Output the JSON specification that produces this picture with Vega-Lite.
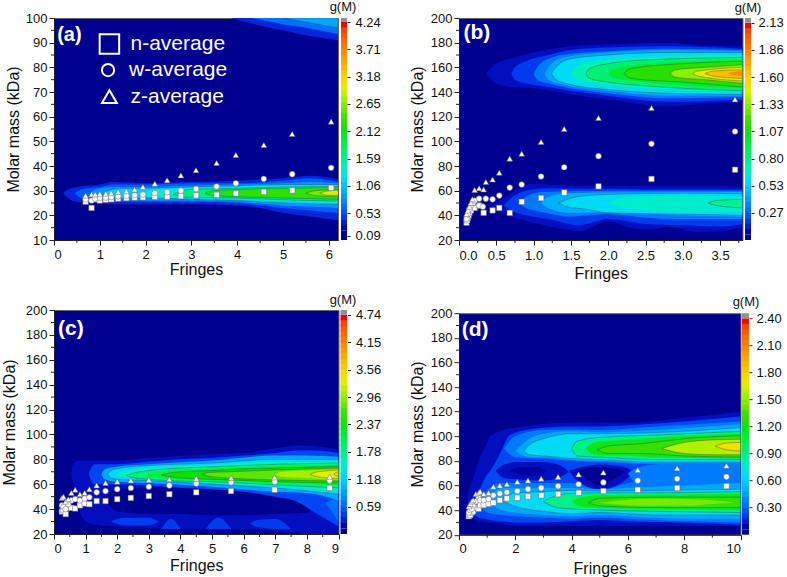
{"$schema":"https://vega.github.io/schema/vega-lite/v6.json","background":"white","padding":{"left":0,"top":0,"right":0,"bottom":0},
"config":{"font":"Liberation Sans","view":{"fill":"#000090","stroke":"#666"},"axis":{"labelFont":"Liberation Sans","titleFont":"Liberation Sans","labelFontSize":13,"titleFontSize":16,"titleFontWeight":"normal","labelColor":"#111","titleColor":"#111","tickColor":"#222","domainColor":"#222","tickSize":5,"grid":false,"labelPadding":2}},
"datasets":{
"one":[{}],
"xa":[{"x":0.5},{"x":1.5},{"x":2.5},{"x":3.5},{"x":4.5},{"x":5.5}],
"ya":[{"y":15},{"y":25},{"y":35},{"y":45},{"y":55},{"y":65},{"y":75},{"y":85},{"y":95}],
"xb":[{"x":0.25},{"x":0.75},{"x":1.25},{"x":1.75},{"x":2.25},{"x":2.75},{"x":3.25},{"x":3.75}],
"xc":[{"x":0.5},{"x":1.5},{"x":2.5},{"x":3.5},{"x":4.5},{"x":5.5},{"x":6.5},{"x":7.5},{"x":8.5}],
"xd":[{"x":1},{"x":3},{"x":5},{"x":7},{"x":9}],
"yy":[{"y":30},{"y":50},{"y":70},{"y":90},{"y":110},{"y":130},{"y":150},{"y":170},{"y":190}],
"bar":[{"lo":-0.05,"hi":0.025,"f":0},{"lo":0.025,"hi":0.055,"f":0.037},{"lo":0.05,"hi":0.08,"f":0.062},{"lo":0.075,"hi":0.105,"f":0.087},{"lo":0.1,"hi":0.13,"f":0.112},{"lo":0.125,"hi":0.155,"f":0.137},{"lo":0.15,"hi":0.18,"f":0.162},{"lo":0.175,"hi":0.205,"f":0.187},{"lo":0.2,"hi":0.23,"f":0.212},{"lo":0.225,"hi":0.255,"f":0.237},{"lo":0.25,"hi":0.28,"f":0.262},{"lo":0.275,"hi":0.305,"f":0.287},{"lo":0.3,"hi":0.33,"f":0.312},{"lo":0.325,"hi":0.355,"f":0.337},{"lo":0.35,"hi":0.38,"f":0.362},{"lo":0.375,"hi":0.405,"f":0.387},{"lo":0.4,"hi":0.43,"f":0.412},{"lo":0.425,"hi":0.455,"f":0.437},{"lo":0.45,"hi":0.48,"f":0.462},{"lo":0.475,"hi":0.505,"f":0.487},{"lo":0.5,"hi":0.53,"f":0.512},{"lo":0.525,"hi":0.555,"f":0.537},{"lo":0.55,"hi":0.58,"f":0.562},{"lo":0.575,"hi":0.605,"f":0.587},{"lo":0.6,"hi":0.63,"f":0.612},{"lo":0.625,"hi":0.655,"f":0.637},{"lo":0.65,"hi":0.68,"f":0.662},{"lo":0.675,"hi":0.705,"f":0.687},{"lo":0.7,"hi":0.73,"f":0.712},{"lo":0.725,"hi":0.755,"f":0.737},{"lo":0.75,"hi":0.78,"f":0.762},{"lo":0.775,"hi":0.805,"f":0.787},{"lo":0.8,"hi":0.83,"f":0.812},{"lo":0.825,"hi":0.855,"f":0.837},{"lo":0.85,"hi":0.88,"f":0.862},{"lo":0.875,"hi":0.905,"f":0.887},{"lo":0.9,"hi":0.93,"f":0.912},{"lo":0.925,"hi":0.955,"f":0.937},{"lo":0.95,"hi":0.98,"f":0.962},{"lo":0.975,"hi":1.0,"f":1},{"lo":1.0,"hi":1.05,"f":1.05}],
"ma":[
{"b":"a1","f":0.07,"c":0,"x":0.2,"l":29,"h":29},{"b":"a1","f":0.07,"c":0,"x":0.3,"l":27,"h":30.5},{"b":"a1","f":0.07,"c":0,"x":0.5,"l":25.5,"h":31.5},{"b":"a1","f":0.07,"c":0,"x":1,"l":25,"h":32.5},{"b":"a1","f":0.07,"c":0,"x":1.3,"l":24.5,"h":33.5},{"b":"a1","f":0.07,"c":0,"x":2,"l":24.5,"h":33},{"b":"a1","f":0.07,"c":0,"x":3,"l":24.5,"h":33.5},{"b":"a1","f":0.07,"c":0,"x":4,"l":24,"h":34},{"b":"a1","f":0.07,"c":0,"x":4.5,"l":23,"h":34.5},{"b":"a1","f":0.07,"c":0,"x":5,"l":21,"h":35},{"b":"a1","f":0.07,"c":0,"x":5.6,"l":19.5,"h":36},{"b":"a1","f":0.07,"c":0,"x":6.2,"l":18,"h":34.5},
{"b":"a2","f":0.12,"c":0,"x":0.45,"l":29,"h":29},{"b":"a2","f":0.12,"c":0,"x":0.6,"l":27,"h":30.5},{"b":"a2","f":0.12,"c":0,"x":1,"l":26,"h":31.5},{"b":"a2","f":0.12,"c":0,"x":1.3,"l":25.5,"h":32.5},{"b":"a2","f":0.12,"c":0,"x":2,"l":25.5,"h":32.5},{"b":"a2","f":0.12,"c":0,"x":3,"l":25.5,"h":33},{"b":"a2","f":0.12,"c":0,"x":4,"l":25,"h":33},{"b":"a2","f":0.12,"c":0,"x":5,"l":23,"h":34},{"b":"a2","f":0.12,"c":0,"x":5.6,"l":22,"h":35},{"b":"a2","f":0.12,"c":0,"x":6.2,"l":21,"h":33.5},
{"b":"a3","f":0.18,"c":0,"x":0.8,"l":29,"h":29},{"b":"a3","f":0.18,"c":0,"x":0.9,"l":27.5,"h":30.5},{"b":"a3","f":0.18,"c":0,"x":1.3,"l":26.5,"h":31.5},{"b":"a3","f":0.18,"c":0,"x":2,"l":26,"h":31.5},{"b":"a3","f":0.18,"c":0,"x":3,"l":26,"h":32},{"b":"a3","f":0.18,"c":0,"x":4,"l":25.5,"h":32.5},{"b":"a3","f":0.18,"c":0,"x":5,"l":24,"h":33},{"b":"a3","f":0.18,"c":0,"x":5.6,"l":23.5,"h":33.5},{"b":"a3","f":0.18,"c":0,"x":6.2,"l":23,"h":33},
{"b":"a4","f":0.25,"c":1,"x":1.1,"l":29,"h":29},{"b":"a4","f":0.25,"c":1,"x":1.2,"l":27.8,"h":30.2},{"b":"a4","f":0.25,"c":1,"x":1.5,"l":27,"h":31},{"b":"a4","f":0.25,"c":1,"x":2,"l":27,"h":31},{"b":"a4","f":0.25,"c":1,"x":3,"l":26.5,"h":31.5},{"b":"a4","f":0.25,"c":1,"x":4,"l":26,"h":32},{"b":"a4","f":0.25,"c":1,"x":5,"l":25,"h":32.5},{"b":"a4","f":0.25,"c":1,"x":6.2,"l":24.5,"h":32.5},
{"b":"a5","f":0.31,"c":0,"x":1.9,"l":28.5,"h":28.5},{"b":"a5","f":0.31,"c":0,"x":2.1,"l":27.5,"h":30},{"b":"a5","f":0.31,"c":0,"x":3,"l":27,"h":31},{"b":"a5","f":0.31,"c":0,"x":4,"l":26.5,"h":31.5},{"b":"a5","f":0.31,"c":0,"x":5,"l":25.8,"h":32},{"b":"a5","f":0.31,"c":0,"x":6.2,"l":25,"h":32},
{"b":"a6","f":0.38,"c":1,"x":2.6,"l":28.5,"h":28.5},{"b":"a6","f":0.38,"c":1,"x":2.8,"l":27.5,"h":30},{"b":"a6","f":0.38,"c":1,"x":3,"l":27.3,"h":30.5},{"b":"a6","f":0.38,"c":1,"x":4,"l":27,"h":31},{"b":"a6","f":0.38,"c":1,"x":5,"l":26.3,"h":31.5},{"b":"a6","f":0.38,"c":1,"x":6.2,"l":25.8,"h":31.7},
{"b":"a7","f":0.47,"c":1,"x":3.3,"l":29,"h":29},{"b":"a7","f":0.47,"c":1,"x":3.45,"l":28,"h":30},{"b":"a7","f":0.47,"c":1,"x":4,"l":27.5,"h":30.5},{"b":"a7","f":0.47,"c":1,"x":5,"l":27,"h":31},{"b":"a7","f":0.47,"c":1,"x":6.2,"l":26.5,"h":31.2},
{"b":"a8","f":0.53,"c":0,"x":3.6,"l":29,"h":29},{"b":"a8","f":0.53,"c":0,"x":3.8,"l":28.2,"h":29.8},{"b":"a8","f":0.53,"c":0,"x":4.5,"l":27.8,"h":30.2},{"b":"a8","f":0.53,"c":0,"x":5,"l":27.5,"h":30.5},{"b":"a8","f":0.53,"c":0,"x":6.2,"l":27,"h":31},
{"b":"a9","f":0.6,"c":1,"x":5.5,"l":29,"h":29},{"b":"a9","f":0.6,"c":1,"x":5.7,"l":28,"h":30},{"b":"a9","f":0.6,"c":1,"x":6.2,"l":27.5,"h":30.5},
{"b":"a10","f":0.68,"c":1,"x":5.8,"l":29,"h":29},{"b":"a10","f":0.68,"c":1,"x":5.95,"l":28.2,"h":29.8},{"b":"a10","f":0.68,"c":1,"x":6.2,"l":28,"h":30.2},
{"b":"a11","f":0.74,"c":0,"x":6.05,"l":29,"h":29},{"b":"a11","f":0.74,"c":0,"x":6.2,"l":28.5,"h":29.6},
{"b":"a12","f":0.07,"c":0,"x":3.85,"l":100,"h":100},{"b":"a12","f":0.07,"c":0,"x":4.5,"l":97,"h":100},{"b":"a12","f":0.07,"c":0,"x":5,"l":95,"h":100},{"b":"a12","f":0.07,"c":0,"x":5.5,"l":93,"h":100},{"b":"a12","f":0.07,"c":0,"x":6.2,"l":91,"h":100},
{"b":"a13","f":0.14,"c":0,"x":4.3,"l":100,"h":100},{"b":"a13","f":0.14,"c":0,"x":5,"l":97.5,"h":100},{"b":"a13","f":0.14,"c":0,"x":5.5,"l":96,"h":100},{"b":"a13","f":0.14,"c":0,"x":6.2,"l":93.5,"h":100},
{"b":"a14","f":0.2,"c":1,"x":5,"l":100,"h":100},{"b":"a14","f":0.2,"c":1,"x":5.6,"l":98,"h":100},{"b":"a14","f":0.2,"c":1,"x":6.2,"l":96,"h":100}],
"mb":[
{"b":"b1","f":0.05,"c":0,"x":0.37,"l":155,"h":155},{"b":"b1","f":0.05,"c":0,"x":0.42,"l":151,"h":159},{"b":"b1","f":0.05,"c":0,"x":0.5,"l":147,"h":163},{"b":"b1","f":0.05,"c":0,"x":0.7,"l":144,"h":167},{"b":"b1","f":0.05,"c":0,"x":1,"l":143,"h":172},{"b":"b1","f":0.05,"c":0,"x":1.5,"l":138,"h":177},{"b":"b1","f":0.05,"c":0,"x":2,"l":134,"h":178.5},{"b":"b1","f":0.05,"c":0,"x":2.8,"l":128.5,"h":180},{"b":"b1","f":0.05,"c":0,"x":3.2,"l":130,"h":178},{"b":"b1","f":0.05,"c":0,"x":3.8,"l":132.5,"h":177},
{"b":"b2","f":0.09,"c":0,"x":0.7,"l":155,"h":155},{"b":"b2","f":0.09,"c":0,"x":0.75,"l":150,"h":160},{"b":"b2","f":0.09,"c":0,"x":0.9,"l":147,"h":165},{"b":"b2","f":0.09,"c":0,"x":1.2,"l":144,"h":170},{"b":"b2","f":0.09,"c":0,"x":1.5,"l":141,"h":174},{"b":"b2","f":0.09,"c":0,"x":2,"l":137,"h":176},{"b":"b2","f":0.09,"c":0,"x":2.8,"l":132,"h":177},{"b":"b2","f":0.09,"c":0,"x":3.8,"l":134,"h":175},
{"b":"b3","f":0.15,"c":0,"x":1,"l":155,"h":155},{"b":"b3","f":0.15,"c":0,"x":1.05,"l":150,"h":160},{"b":"b3","f":0.15,"c":0,"x":1.2,"l":147,"h":167},{"b":"b3","f":0.15,"c":0,"x":1.5,"l":143,"h":171},{"b":"b3","f":0.15,"c":0,"x":2,"l":139,"h":173},{"b":"b3","f":0.15,"c":0,"x":2.8,"l":135,"h":175},{"b":"b3","f":0.15,"c":0,"x":3.8,"l":136,"h":174},
{"b":"b4","f":0.2,"c":0,"x":1.15,"l":155,"h":155},{"b":"b4","f":0.2,"c":0,"x":1.2,"l":150,"h":160},{"b":"b4","f":0.2,"c":0,"x":1.4,"l":146,"h":168},{"b":"b4","f":0.2,"c":0,"x":2,"l":141,"h":172},{"b":"b4","f":0.2,"c":0,"x":2.8,"l":137,"h":174},{"b":"b4","f":0.2,"c":0,"x":3.8,"l":137,"h":173},
{"b":"b5","f":0.27,"c":1,"x":1.24,"l":155,"h":155},{"b":"b5","f":0.27,"c":1,"x":1.3,"l":150,"h":160},{"b":"b5","f":0.27,"c":1,"x":1.5,"l":146,"h":167},{"b":"b5","f":0.27,"c":1,"x":2,"l":142,"h":170},{"b":"b5","f":0.27,"c":1,"x":2.8,"l":139,"h":172},{"b":"b5","f":0.27,"c":1,"x":3.8,"l":138,"h":172},
{"b":"b6","f":0.33,"c":0,"x":1.5,"l":155,"h":155},{"b":"b6","f":0.33,"c":0,"x":1.55,"l":151,"h":159},{"b":"b6","f":0.33,"c":0,"x":1.8,"l":147,"h":165},{"b":"b6","f":0.33,"c":0,"x":2.8,"l":142,"h":169},{"b":"b6","f":0.33,"c":0,"x":3.8,"l":140,"h":170},
{"b":"b7","f":0.39,"c":1,"x":1.7,"l":155,"h":155},{"b":"b7","f":0.39,"c":1,"x":1.75,"l":151,"h":159},{"b":"b7","f":0.39,"c":1,"x":2,"l":148,"h":163},{"b":"b7","f":0.39,"c":1,"x":2.5,"l":145,"h":166},{"b":"b7","f":0.39,"c":1,"x":3.8,"l":141,"h":168},
{"b":"b8","f":0.46,"c":0,"x":2,"l":155,"h":155},{"b":"b8","f":0.46,"c":0,"x":2.1,"l":151,"h":159},{"b":"b8","f":0.46,"c":0,"x":2.5,"l":148,"h":163},{"b":"b8","f":0.46,"c":0,"x":3.8,"l":143,"h":166},
{"b":"b9","f":0.52,"c":1,"x":2.21,"l":155,"h":155},{"b":"b9","f":0.52,"c":1,"x":2.3,"l":151,"h":159},{"b":"b9","f":0.52,"c":1,"x":3,"l":148,"h":163},{"b":"b9","f":0.52,"c":1,"x":3.8,"l":144,"h":165},
{"b":"b10","f":0.62,"c":1,"x":2.83,"l":155,"h":155},{"b":"b10","f":0.62,"c":1,"x":2.9,"l":152,"h":158},{"b":"b10","f":0.62,"c":1,"x":3.3,"l":150,"h":160},{"b":"b10","f":0.62,"c":1,"x":3.8,"l":147,"h":162},
{"b":"b11","f":0.7,"c":1,"x":3.13,"l":155,"h":155},{"b":"b11","f":0.7,"c":1,"x":3.2,"l":153,"h":157},{"b":"b11","f":0.7,"c":1,"x":3.8,"l":149,"h":160},
{"b":"b12","f":0.78,"c":1,"x":3.3,"l":155,"h":155},{"b":"b12","f":0.78,"c":1,"x":3.4,"l":153,"h":157},{"b":"b12","f":0.78,"c":1,"x":3.8,"l":151,"h":158},
{"b":"b13","f":0.86,"c":0,"x":3.6,"l":155,"h":155},{"b":"b13","f":0.86,"c":0,"x":3.7,"l":153.5,"h":156.5},{"b":"b13","f":0.86,"c":0,"x":3.8,"l":153,"h":157},
{"b":"b14","f":0.05,"c":0,"x":0.42,"l":47,"h":47},{"b":"b14","f":0.05,"c":0,"x":0.6,"l":41,"h":54},{"b":"b14","f":0.05,"c":0,"x":0.8,"l":37,"h":62},{"b":"b14","f":0.05,"c":0,"x":1,"l":34,"h":65.7},{"b":"b14","f":0.05,"c":0,"x":1.3,"l":30,"h":64.5},{"b":"b14","f":0.05,"c":0,"x":1.65,"l":27.3,"h":63.8},{"b":"b14","f":0.05,"c":0,"x":1.8,"l":31,"h":64},{"b":"b14","f":0.05,"c":0,"x":2,"l":35,"h":64},{"b":"b14","f":0.05,"c":0,"x":2.3,"l":30,"h":64},{"b":"b14","f":0.05,"c":0,"x":2.6,"l":28.6,"h":64},{"b":"b14","f":0.05,"c":0,"x":2.8,"l":31,"h":64},{"b":"b14","f":0.05,"c":0,"x":2.9,"l":30,"h":64},{"b":"b14","f":0.05,"c":0,"x":3.2,"l":26.5,"h":64},{"b":"b14","f":0.05,"c":0,"x":3.5,"l":27,"h":64},{"b":"b14","f":0.05,"c":0,"x":3.8,"l":31,"h":63},
{"b":"b15","f":0.09,"c":0,"x":0.6,"l":48,"h":48},{"b":"b15","f":0.09,"c":0,"x":0.7,"l":44,"h":54},{"b":"b15","f":0.09,"c":0,"x":0.9,"l":40,"h":60},{"b":"b15","f":0.09,"c":0,"x":1.2,"l":37,"h":62},{"b":"b15","f":0.09,"c":0,"x":1.6,"l":32,"h":61.5},{"b":"b15","f":0.09,"c":0,"x":2,"l":37,"h":61.5},{"b":"b15","f":0.09,"c":0,"x":2.5,"l":33,"h":61},{"b":"b15","f":0.09,"c":0,"x":3,"l":32,"h":61},{"b":"b15","f":0.09,"c":0,"x":3.5,"l":31,"h":61},{"b":"b15","f":0.09,"c":0,"x":3.8,"l":33,"h":61},
{"b":"b16","f":0.15,"c":0,"x":0.8,"l":50,"h":50},{"b":"b16","f":0.15,"c":0,"x":0.9,"l":46,"h":55},{"b":"b16","f":0.15,"c":0,"x":1.1,"l":43,"h":59},{"b":"b16","f":0.15,"c":0,"x":1.5,"l":39,"h":59.5},{"b":"b16","f":0.15,"c":0,"x":2,"l":41,"h":60},{"b":"b16","f":0.15,"c":0,"x":2.5,"l":38,"h":60},{"b":"b16","f":0.15,"c":0,"x":3,"l":37,"h":60},{"b":"b16","f":0.15,"c":0,"x":3.8,"l":37,"h":60},
{"b":"b17","f":0.21,"c":0,"x":1.1,"l":50,"h":50},{"b":"b17","f":0.21,"c":0,"x":1.2,"l":46,"h":55},{"b":"b17","f":0.21,"c":0,"x":1.5,"l":42,"h":58},{"b":"b17","f":0.21,"c":0,"x":2,"l":42.5,"h":58.5},{"b":"b17","f":0.21,"c":0,"x":3,"l":40,"h":59},{"b":"b17","f":0.21,"c":0,"x":3.8,"l":39,"h":59},
{"b":"b18","f":0.27,"c":1,"x":1.34,"l":50,"h":50},{"b":"b18","f":0.27,"c":1,"x":1.45,"l":47,"h":53},{"b":"b18","f":0.27,"c":1,"x":1.7,"l":45,"h":56},{"b":"b18","f":0.27,"c":1,"x":2,"l":42,"h":57},{"b":"b18","f":0.27,"c":1,"x":3,"l":41,"h":58},{"b":"b18","f":0.27,"c":1,"x":3.8,"l":40,"h":57.5},
{"b":"b19","f":0.31,"c":0,"x":2,"l":50,"h":50},{"b":"b19","f":0.31,"c":0,"x":2.2,"l":46,"h":54.5},{"b":"b19","f":0.31,"c":0,"x":3,"l":43,"h":56},{"b":"b19","f":0.31,"c":0,"x":3.8,"l":43,"h":55},
{"b":"b20","f":0.36,"c":1,"x":3.34,"l":50,"h":50},{"b":"b20","f":0.36,"c":1,"x":3.45,"l":48,"h":52},{"b":"b20","f":0.36,"c":1,"x":3.8,"l":46,"h":53}],
"mc":[
{"b":"c1","f":0.05,"c":0,"x":0.55,"l":68,"h":68},{"b":"c1","f":0.05,"c":0,"x":0.6,"l":62,"h":76},{"b":"c1","f":0.05,"c":0,"x":0.7,"l":50,"h":78},{"b":"c1","f":0.05,"c":0,"x":0.9,"l":33,"h":79},{"b":"c1","f":0.05,"c":0,"x":1.2,"l":28,"h":79},{"b":"c1","f":0.05,"c":0,"x":2,"l":26,"h":79},{"b":"c1","f":0.05,"c":0,"x":3,"l":25,"h":81},{"b":"c1","f":0.05,"c":0,"x":5,"l":24,"h":84},{"b":"c1","f":0.05,"c":0,"x":6,"l":24,"h":85},{"b":"c1","f":0.05,"c":0,"x":7,"l":23,"h":89},{"b":"c1","f":0.05,"c":0,"x":7.7,"l":21,"h":91},{"b":"c1","f":0.05,"c":0,"x":7.9,"l":20,"h":91},{"b":"c1","f":0.05,"c":0,"x":8.5,"l":20,"h":90},{"b":"c1","f":0.05,"c":0,"x":9,"l":20,"h":88},
{"b":"c2","f":0,"c":0,"x":1.5,"l":48,"h":48},{"b":"c2","f":0,"c":0,"x":1.7,"l":44,"h":52},{"b":"c2","f":0,"c":0,"x":2,"l":38,"h":56},{"b":"c2","f":0,"c":0,"x":3,"l":36,"h":57},{"b":"c2","f":0,"c":0,"x":4,"l":36,"h":58},{"b":"c2","f":0,"c":0,"x":5,"l":35,"h":56},{"b":"c2","f":0,"c":0,"x":6,"l":35,"h":54},{"b":"c2","f":0,"c":0,"x":7,"l":36,"h":50},{"b":"c2","f":0,"c":0,"x":8,"l":37,"h":44},{"b":"c2","f":0,"c":0,"x":8.3,"l":40,"h":40},
{"b":"c3","f":0.1,"c":0,"x":1.1,"l":68,"h":68},{"b":"c3","f":0.1,"c":0,"x":1.2,"l":62,"h":74},{"b":"c3","f":0.1,"c":0,"x":1.3,"l":60,"h":76},{"b":"c3","f":0.1,"c":0,"x":2,"l":60,"h":76},{"b":"c3","f":0.1,"c":0,"x":3,"l":59,"h":78},{"b":"c3","f":0.1,"c":0,"x":4,"l":57,"h":80},{"b":"c3","f":0.1,"c":0,"x":5,"l":56,"h":81},{"b":"c3","f":0.1,"c":0,"x":6,"l":54,"h":83},{"b":"c3","f":0.1,"c":0,"x":7,"l":50,"h":85},{"b":"c3","f":0.1,"c":0,"x":7.7,"l":46,"h":87},{"b":"c3","f":0.1,"c":0,"x":8.2,"l":38,"h":87},{"b":"c3","f":0.1,"c":0,"x":8.6,"l":32,"h":86.5},{"b":"c3","f":0.1,"c":0,"x":9,"l":26,"h":85},
{"b":"c4","f":0.09,"c":0,"x":1.8,"l":30,"h":30},{"b":"c4","f":0.09,"c":0,"x":2.2,"l":27,"h":33},{"b":"c4","f":0.09,"c":0,"x":3,"l":27,"h":33},{"b":"c4","f":0.09,"c":0,"x":3.3,"l":30,"h":30},
{"b":"c5","f":0.09,"c":0,"x":3.4,"l":24,"h":24},{"b":"c5","f":0.09,"c":0,"x":3.7,"l":24,"h":32},{"b":"c5","f":0.09,"c":0,"x":4,"l":24,"h":24},
{"b":"c6","f":0.09,"c":0,"x":4.8,"l":24,"h":24},{"b":"c6","f":0.09,"c":0,"x":5.2,"l":24,"h":33},{"b":"c6","f":0.09,"c":0,"x":5.6,"l":24,"h":24},
{"b":"c7","f":0.09,"c":0,"x":6.2,"l":28,"h":28},{"b":"c7","f":0.09,"c":0,"x":6.4,"l":26,"h":31},{"b":"c7","f":0.09,"c":0,"x":7,"l":24,"h":32},{"b":"c7","f":0.09,"c":0,"x":7.5,"l":24,"h":24},
{"b":"c8","f":0.14,"c":0,"x":8.6,"l":45,"h":45},{"b":"c8","f":0.14,"c":0,"x":9,"l":30,"h":50},
{"b":"c9","f":0.2,"c":0,"x":1.5,"l":68,"h":68},{"b":"c9","f":0.2,"c":0,"x":1.6,"l":64,"h":72},{"b":"c9","f":0.2,"c":0,"x":2,"l":62,"h":74},{"b":"c9","f":0.2,"c":0,"x":3,"l":61,"h":76},{"b":"c9","f":0.2,"c":0,"x":5,"l":58,"h":79},{"b":"c9","f":0.2,"c":0,"x":7,"l":54,"h":83},{"b":"c9","f":0.2,"c":0,"x":8,"l":53,"h":83},{"b":"c9","f":0.2,"c":0,"x":9,"l":47,"h":82},
{"b":"c10","f":0.27,"c":1,"x":1.7,"l":68,"h":68},{"b":"c10","f":0.27,"c":1,"x":1.8,"l":65,"h":71},{"b":"c10","f":0.27,"c":1,"x":2,"l":64,"h":72.5},{"b":"c10","f":0.27,"c":1,"x":3,"l":63,"h":75},{"b":"c10","f":0.27,"c":1,"x":5,"l":60,"h":77},{"b":"c10","f":0.27,"c":1,"x":7,"l":57,"h":80},{"b":"c10","f":0.27,"c":1,"x":9,"l":52,"h":80},
{"b":"c11","f":0.32,"c":0,"x":2,"l":68,"h":68},{"b":"c11","f":0.32,"c":0,"x":2.1,"l":66,"h":70},{"b":"c11","f":0.32,"c":0,"x":3,"l":64,"h":73},{"b":"c11","f":0.32,"c":0,"x":5,"l":61,"h":75.5},{"b":"c11","f":0.32,"c":0,"x":7,"l":58.5,"h":78},{"b":"c11","f":0.32,"c":0,"x":9,"l":54,"h":78.5},
{"b":"c12","f":0.38,"c":1,"x":2.3,"l":67,"h":67},{"b":"c12","f":0.38,"c":1,"x":2.45,"l":65.5,"h":68.5},{"b":"c12","f":0.38,"c":1,"x":3,"l":64,"h":71},{"b":"c12","f":0.38,"c":1,"x":4,"l":62.5,"h":73},{"b":"c12","f":0.38,"c":1,"x":5,"l":62,"h":74},{"b":"c12","f":0.38,"c":1,"x":7,"l":59.5,"h":76},{"b":"c12","f":0.38,"c":1,"x":9,"l":57,"h":77},
{"b":"c13","f":0.44,"c":0,"x":2.9,"l":67,"h":67},{"b":"c13","f":0.44,"c":0,"x":3,"l":66,"h":68.5},{"b":"c13","f":0.44,"c":0,"x":4,"l":64,"h":71.5},{"b":"c13","f":0.44,"c":0,"x":5,"l":63,"h":72.5},{"b":"c13","f":0.44,"c":0,"x":7,"l":61,"h":74.5},{"b":"c13","f":0.44,"c":0,"x":9,"l":59,"h":75.5},
{"b":"c14","f":0.5,"c":1,"x":3.4,"l":67.5,"h":67.5},{"b":"c14","f":0.5,"c":1,"x":3.55,"l":66.5,"h":68.5},{"b":"c14","f":0.5,"c":1,"x":4,"l":65,"h":70},{"b":"c14","f":0.5,"c":1,"x":5,"l":64,"h":71},{"b":"c14","f":0.5,"c":1,"x":6,"l":63,"h":72.5},{"b":"c14","f":0.5,"c":1,"x":7,"l":62,"h":73},{"b":"c14","f":0.5,"c":1,"x":9,"l":61,"h":74.5},
{"b":"c15","f":0.58,"c":1,"x":4.7,"l":68,"h":68},{"b":"c15","f":0.58,"c":1,"x":4.9,"l":66.5,"h":69.5},{"b":"c15","f":0.58,"c":1,"x":5.5,"l":65,"h":70},{"b":"c15","f":0.58,"c":1,"x":7,"l":63.5,"h":71.5},{"b":"c15","f":0.58,"c":1,"x":9,"l":62.5,"h":73},
{"b":"c16","f":0.64,"c":0,"x":7,"l":68,"h":68},{"b":"c16","f":0.64,"c":0,"x":7.2,"l":66,"h":70},{"b":"c16","f":0.64,"c":0,"x":8,"l":65,"h":71},{"b":"c16","f":0.64,"c":0,"x":9,"l":63.5,"h":72},
{"b":"c17","f":0.7,"c":1,"x":8.1,"l":68,"h":68},{"b":"c17","f":0.7,"c":1,"x":8.25,"l":66.5,"h":69.5},{"b":"c17","f":0.7,"c":1,"x":8.5,"l":65.5,"h":70.5},{"b":"c17","f":0.7,"c":1,"x":9,"l":64.5,"h":71.5},
{"b":"c18","f":0.76,"c":1,"x":8.85,"l":68,"h":68},{"b":"c18","f":0.76,"c":1,"x":8.95,"l":66.5,"h":69.8},{"b":"c18","f":0.76,"c":1,"x":9,"l":66,"h":70}],
"md":[
{"b":"d1","f":0.05,"c":0,"x":0.28,"l":38,"h":38},{"b":"d1","f":0.05,"c":0,"x":0.3,"l":35,"h":50},{"b":"d1","f":0.05,"c":0,"x":0.5,"l":33,"h":65},{"b":"d1","f":0.05,"c":0,"x":0.7,"l":31,"h":80},{"b":"d1","f":0.05,"c":0,"x":1,"l":30,"h":95},{"b":"d1","f":0.05,"c":0,"x":1.1,"l":30,"h":100},{"b":"d1","f":0.05,"c":0,"x":2,"l":27,"h":107},{"b":"d1","f":0.05,"c":0,"x":4,"l":27,"h":111},{"b":"d1","f":0.05,"c":0,"x":6,"l":27,"h":111},{"b":"d1","f":0.05,"c":0,"x":8,"l":27,"h":115},{"b":"d1","f":0.05,"c":0,"x":10,"l":27,"h":120},
{"b":"d2","f":0.1,"c":0,"x":0.45,"l":42,"h":42},{"b":"d2","f":0.1,"c":0,"x":0.55,"l":36,"h":50},{"b":"d2","f":0.1,"c":0,"x":0.7,"l":34,"h":55},{"b":"d2","f":0.1,"c":0,"x":0.9,"l":33,"h":65},{"b":"d2","f":0.1,"c":0,"x":1.2,"l":31.5,"h":75},{"b":"d2","f":0.1,"c":0,"x":1.5,"l":31,"h":88},{"b":"d2","f":0.1,"c":0,"x":1.7,"l":30.5,"h":98},{"b":"d2","f":0.1,"c":0,"x":2,"l":30,"h":103},{"b":"d2","f":0.1,"c":0,"x":3,"l":30,"h":107},{"b":"d2","f":0.1,"c":0,"x":4,"l":31,"h":108},{"b":"d2","f":0.1,"c":0,"x":5,"l":32,"h":108},{"b":"d2","f":0.1,"c":0,"x":6,"l":31,"h":109},{"b":"d2","f":0.1,"c":0,"x":8,"l":30,"h":112},{"b":"d2","f":0.1,"c":0,"x":10,"l":28,"h":116},
{"b":"d3","f":0.05,"c":0,"x":1.3,"l":72,"h":72},{"b":"d3","f":0.05,"c":0,"x":1.6,"l":66,"h":77},{"b":"d3","f":0.05,"c":0,"x":2,"l":65,"h":79},{"b":"d3","f":0.05,"c":0,"x":3,"l":64,"h":79},{"b":"d3","f":0.05,"c":0,"x":3.7,"l":68,"h":75},{"b":"d3","f":0.05,"c":0,"x":3.9,"l":71,"h":71},
{"b":"d4","f":0.02,"c":0,"x":1.8,"l":72,"h":72},{"b":"d4","f":0.02,"c":0,"x":2.2,"l":69,"h":75},{"b":"d4","f":0.02,"c":0,"x":2.8,"l":68,"h":75},{"b":"d4","f":0.02,"c":0,"x":3.1,"l":72,"h":72},
{"b":"d5","f":0.05,"c":0,"x":3.9,"l":72,"h":72},{"b":"d5","f":0.05,"c":0,"x":4.2,"l":64,"h":74},{"b":"d5","f":0.05,"c":0,"x":5,"l":57,"h":77},{"b":"d5","f":0.05,"c":0,"x":5.6,"l":60,"h":76},{"b":"d5","f":0.05,"c":0,"x":6,"l":66,"h":74},{"b":"d5","f":0.05,"c":0,"x":6.2,"l":70,"h":70},
{"b":"d6","f":0,"c":0,"x":4.2,"l":72,"h":72},{"b":"d6","f":0,"c":0,"x":4.5,"l":66,"h":74},{"b":"d6","f":0,"c":0,"x":5,"l":60,"h":75},{"b":"d6","f":0,"c":0,"x":5.5,"l":65,"h":74},{"b":"d6","f":0,"c":0,"x":5.9,"l":71,"h":71},
{"b":"d7","f":0.15,"c":0,"x":6,"l":70,"h":70},{"b":"d7","f":0.15,"c":0,"x":6.4,"l":60,"h":75},{"b":"d7","f":0.15,"c":0,"x":7,"l":62,"h":77},{"b":"d7","f":0.15,"c":0,"x":8,"l":62,"h":78},{"b":"d7","f":0.15,"c":0,"x":10,"l":62,"h":78},
{"b":"u1","f":0.15,"c":0,"x":1.6,"l":90,"h":90},{"b":"u1","f":0.15,"c":0,"x":2,"l":83,"h":100},{"b":"u1","f":0.15,"c":0,"x":3,"l":82,"h":105},{"b":"u1","f":0.15,"c":0,"x":4,"l":80,"h":105.5},{"b":"u1","f":0.15,"c":0,"x":5,"l":79,"h":105},{"b":"u1","f":0.15,"c":0,"x":7,"l":77,"h":108},{"b":"u1","f":0.15,"c":0,"x":10,"l":76,"h":112},
{"b":"u2","f":0.2,"c":0,"x":2,"l":88,"h":88},{"b":"u2","f":0.2,"c":0,"x":2.5,"l":83,"h":98},{"b":"u2","f":0.2,"c":0,"x":3,"l":83,"h":102},{"b":"u2","f":0.2,"c":0,"x":4,"l":81,"h":104},{"b":"u2","f":0.2,"c":0,"x":5,"l":80,"h":103},{"b":"u2","f":0.2,"c":0,"x":7,"l":78,"h":105},{"b":"u2","f":0.2,"c":0,"x":10,"l":78,"h":110},
{"b":"u3","f":0.27,"c":1,"x":2.3,"l":88,"h":88},{"b":"u3","f":0.27,"c":1,"x":2.5,"l":85,"h":93},{"b":"u3","f":0.27,"c":1,"x":3,"l":84,"h":98},{"b":"u3","f":0.27,"c":1,"x":3.5,"l":83,"h":101},{"b":"u3","f":0.27,"c":1,"x":4,"l":82,"h":102},{"b":"u3","f":0.27,"c":1,"x":5,"l":81,"h":102},{"b":"u3","f":0.27,"c":1,"x":7,"l":79,"h":103},{"b":"u3","f":0.27,"c":1,"x":10,"l":79,"h":107},
{"b":"u4","f":0.37,"c":1,"x":4,"l":90,"h":90},{"b":"u4","f":0.37,"c":1,"x":4.2,"l":84,"h":96},{"b":"u4","f":0.37,"c":1,"x":5,"l":83,"h":99},{"b":"u4","f":0.37,"c":1,"x":7,"l":81,"h":101},{"b":"u4","f":0.37,"c":1,"x":10,"l":81,"h":104},
{"b":"u5","f":0.48,"c":0,"x":4.5,"l":90,"h":90},{"b":"u5","f":0.48,"c":0,"x":4.8,"l":85,"h":95},{"b":"u5","f":0.48,"c":0,"x":5.5,"l":84.5,"h":96.5},{"b":"u5","f":0.48,"c":0,"x":7,"l":83,"h":99},{"b":"u5","f":0.48,"c":0,"x":10,"l":82,"h":102},
{"b":"u6","f":0.54,"c":1,"x":4.9,"l":89,"h":89},{"b":"u6","f":0.54,"c":1,"x":5.3,"l":86,"h":92},{"b":"u6","f":0.54,"c":1,"x":6.5,"l":86,"h":94},{"b":"u6","f":0.54,"c":1,"x":8,"l":84,"h":98},{"b":"u6","f":0.54,"c":1,"x":10,"l":83,"h":100.5},
{"b":"u7","f":0.65,"c":1,"x":7.2,"l":90,"h":90},{"b":"u7","f":0.65,"c":1,"x":8,"l":86,"h":95},{"b":"u7","f":0.65,"c":1,"x":9,"l":85,"h":97},{"b":"u7","f":0.65,"c":1,"x":10,"l":85,"h":97.5},
{"b":"u8","f":0.72,"c":1,"x":9.1,"l":92,"h":92},{"b":"u8","f":0.72,"c":1,"x":9.5,"l":89,"h":94.5},{"b":"u8","f":0.72,"c":1,"x":10,"l":88,"h":95},
{"b":"v1","f":0.15,"c":0,"x":0.7,"l":45,"h":45},{"b":"v1","f":0.15,"c":0,"x":1,"l":38,"h":56},{"b":"v1","f":0.15,"c":0,"x":1.5,"l":36,"h":62},{"b":"v1","f":0.15,"c":0,"x":2,"l":35,"h":62},{"b":"v1","f":0.15,"c":0,"x":3,"l":34,"h":62},{"b":"v1","f":0.15,"c":0,"x":4,"l":33,"h":62},{"b":"v1","f":0.15,"c":0,"x":5,"l":34,"h":56},{"b":"v1","f":0.15,"c":0,"x":6,"l":33,"h":62},{"b":"v1","f":0.15,"c":0,"x":7,"l":32,"h":65},{"b":"v1","f":0.15,"c":0,"x":8,"l":31,"h":67},{"b":"v1","f":0.15,"c":0,"x":10,"l":30,"h":70},
{"b":"v2","f":0.2,"c":0,"x":1,"l":47,"h":47},{"b":"v2","f":0.2,"c":0,"x":1.5,"l":40,"h":58},{"b":"v2","f":0.2,"c":0,"x":2,"l":38,"h":58},{"b":"v2","f":0.2,"c":0,"x":3,"l":36,"h":58},{"b":"v2","f":0.2,"c":0,"x":4,"l":35,"h":58},{"b":"v2","f":0.2,"c":0,"x":5,"l":36,"h":57},{"b":"v2","f":0.2,"c":0,"x":6,"l":35,"h":58},{"b":"v2","f":0.2,"c":0,"x":8,"l":33,"h":60},{"b":"v2","f":0.2,"c":0,"x":10,"l":33,"h":62},
{"b":"v3","f":0.27,"c":1,"x":1.5,"l":48,"h":48},{"b":"v3","f":0.27,"c":1,"x":2,"l":43,"h":54},{"b":"v3","f":0.27,"c":1,"x":3,"l":39,"h":55},{"b":"v3","f":0.27,"c":1,"x":4,"l":37,"h":56},{"b":"v3","f":0.27,"c":1,"x":5,"l":38,"h":55.5},{"b":"v3","f":0.27,"c":1,"x":7,"l":36,"h":56},{"b":"v3","f":0.27,"c":1,"x":10,"l":36,"h":57},
{"b":"v4","f":0.37,"c":1,"x":3,"l":47,"h":47},{"b":"v4","f":0.37,"c":1,"x":3.5,"l":42,"h":52},{"b":"v4","f":0.37,"c":1,"x":4,"l":41,"h":53.5},{"b":"v4","f":0.37,"c":1,"x":5,"l":40,"h":54},{"b":"v4","f":0.37,"c":1,"x":7,"l":39,"h":54},{"b":"v4","f":0.37,"c":1,"x":10,"l":38,"h":55},
{"b":"v5","f":0.48,"c":0,"x":4,"l":47,"h":47},{"b":"v5","f":0.48,"c":0,"x":4.3,"l":43,"h":50},{"b":"v5","f":0.48,"c":0,"x":5,"l":42,"h":52},{"b":"v5","f":0.48,"c":0,"x":7,"l":41,"h":52.5},{"b":"v5","f":0.48,"c":0,"x":10,"l":40,"h":53},
{"b":"v6","f":0.54,"c":1,"x":4.6,"l":46,"h":46},{"b":"v6","f":0.54,"c":1,"x":5,"l":43.5,"h":49.5},{"b":"v6","f":0.54,"c":1,"x":7,"l":42,"h":50.5},{"b":"v6","f":0.54,"c":1,"x":10,"l":42,"h":50.5},
{"b":"v7","f":0.6,"c":0,"x":5,"l":46,"h":46},{"b":"v7","f":0.6,"c":0,"x":6,"l":44,"h":48.5},{"b":"v7","f":0.6,"c":0,"x":7,"l":43.5,"h":49.5},{"b":"v7","f":0.6,"c":0,"x":8,"l":43.5,"h":49},{"b":"v7","f":0.6,"c":0,"x":9,"l":45,"h":48},{"b":"v7","f":0.6,"c":0,"x":9.8,"l":46,"h":46}],
"pa":[{"s":"n","x":0.69,"y":25.5},{"s":"n","x":0.82,"y":23},{"s":"n","x":0.9,"y":26.5},{"s":"n","x":1,"y":26},{"s":"n","x":1.13,"y":26.3},{"s":"n","x":1.25,"y":26.5},{"s":"n","x":1.4,"y":26.8},{"s":"n","x":1.58,"y":27},{"s":"n","x":1.76,"y":27.2},{"s":"n","x":1.94,"y":27.3},{"s":"n","x":2.2,"y":27.5},{"s":"n","x":2.47,"y":27.6},{"s":"n","x":2.77,"y":27.8},{"s":"n","x":3.1,"y":28.1},{"s":"n","x":3.55,"y":28.3},{"s":"n","x":3.97,"y":28.9},{"s":"n","x":4.58,"y":29.5},{"s":"n","x":5.2,"y":30.1},{"s":"n","x":6.05,"y":31.1},
{"s":"w","x":0.69,"y":26.5},{"s":"w","x":0.82,"y":26},{"s":"w","x":0.9,"y":26.8},{"s":"w","x":1,"y":27},{"s":"w","x":1.13,"y":27.2},{"s":"w","x":1.25,"y":27.4},{"s":"w","x":1.4,"y":27.7},{"s":"w","x":1.58,"y":27.9},{"s":"w","x":1.76,"y":28.2},{"s":"w","x":1.94,"y":28.4},{"s":"w","x":2.2,"y":29},{"s":"w","x":2.47,"y":29.4},{"s":"w","x":2.77,"y":30},{"s":"w","x":3.1,"y":30.7},{"s":"w","x":3.55,"y":31.7},{"s":"w","x":3.97,"y":33},{"s":"w","x":4.58,"y":34.8},{"s":"w","x":5.2,"y":36.7},{"s":"w","x":6.05,"y":39.3},
{"s":"z","x":0.69,"y":28},{"s":"z","x":0.82,"y":28.5},{"s":"z","x":0.9,"y":28.5},{"s":"z","x":1,"y":28.7},{"s":"z","x":1.13,"y":28.8},{"s":"z","x":1.25,"y":29},{"s":"z","x":1.4,"y":29.5},{"s":"z","x":1.58,"y":29.8},{"s":"z","x":1.76,"y":30.5},{"s":"z","x":1.94,"y":31.5},{"s":"z","x":2.2,"y":32.8},{"s":"z","x":2.47,"y":34.2},{"s":"z","x":2.77,"y":36.2},{"s":"z","x":3.1,"y":38.3},{"s":"z","x":3.55,"y":41.2},{"s":"z","x":3.97,"y":44.5},{"s":"z","x":4.58,"y":48.5},{"s":"z","x":5.2,"y":53},{"s":"z","x":6.05,"y":58}],
"pb":[{"s":"n","x":0.1,"y":34},{"s":"n","x":0.11,"y":36},{"s":"n","x":0.12,"y":38},{"s":"n","x":0.13,"y":40},{"s":"n","x":0.14,"y":42},{"s":"n","x":0.16,"y":44},{"s":"n","x":0.21,"y":46},{"s":"n","x":0.27,"y":48},{"s":"n","x":0.33,"y":42},{"s":"n","x":0.45,"y":44},{"s":"n","x":0.54,"y":46},{"s":"n","x":0.68,"y":42},{"s":"n","x":0.84,"y":51},{"s":"n","x":1.1,"y":54},{"s":"n","x":1.41,"y":58.5},{"s":"n","x":1.87,"y":63.5},{"s":"n","x":2.58,"y":69.5},{"s":"n","x":3.7,"y":77},
{"s":"w","x":0.1,"y":37},{"s":"w","x":0.12,"y":41},{"s":"w","x":0.14,"y":45},{"s":"w","x":0.16,"y":48},{"s":"w","x":0.19,"y":50},{"s":"w","x":0.21,"y":52},{"s":"w","x":0.27,"y":48},{"s":"w","x":0.32,"y":47},{"s":"w","x":0.27,"y":53.5},{"s":"w","x":0.36,"y":53.5},{"s":"w","x":0.45,"y":53},{"s":"w","x":0.54,"y":56},{"s":"w","x":0.68,"y":62.5},{"s":"w","x":0.84,"y":65},{"s":"w","x":1.1,"y":71.5},{"s":"w","x":1.41,"y":79},{"s":"w","x":1.87,"y":88},{"s":"w","x":2.58,"y":98},{"s":"w","x":3.7,"y":108},
{"s":"z","x":0.1,"y":41},{"s":"z","x":0.12,"y":44},{"s":"z","x":0.14,"y":47},{"s":"z","x":0.16,"y":50},{"s":"z","x":0.18,"y":53},{"s":"z","x":0.21,"y":60.5},{"s":"z","x":0.27,"y":62},{"s":"z","x":0.33,"y":61},{"s":"z","x":0.36,"y":67},{"s":"z","x":0.45,"y":69},{"s":"z","x":0.54,"y":74.5},{"s":"z","x":0.68,"y":86},{"s":"z","x":0.84,"y":90},{"s":"z","x":1.1,"y":99.5},{"s":"z","x":1.41,"y":110},{"s":"z","x":1.87,"y":119},{"s":"z","x":2.58,"y":127},{"s":"z","x":3.7,"y":134}],
"pc":[{"s":"n","x":0.25,"y":38},{"s":"n","x":0.3,"y":39},{"s":"n","x":0.37,"y":36},{"s":"n","x":0.45,"y":41},{"s":"n","x":0.55,"y":41},{"s":"n","x":0.67,"y":40.5},{"s":"n","x":0.82,"y":43},{"s":"n","x":0.97,"y":44.5},{"s":"n","x":1.12,"y":44},{"s":"n","x":1.35,"y":46.5},{"s":"n","x":1.63,"y":46.5},{"s":"n","x":2,"y":48},{"s":"n","x":2.43,"y":49},{"s":"n","x":3,"y":50.5},{"s":"n","x":3.65,"y":52},{"s":"n","x":4.5,"y":53.5},{"s":"n","x":5.6,"y":54.5},{"s":"n","x":6.98,"y":55.5},{"s":"n","x":8.72,"y":57},
{"s":"w","x":0.25,"y":43},{"s":"w","x":0.3,"y":42},{"s":"w","x":0.37,"y":40},{"s":"w","x":0.45,"y":44},{"s":"w","x":0.55,"y":47},{"s":"w","x":0.67,"y":48},{"s":"w","x":0.82,"y":47},{"s":"w","x":0.97,"y":48.5},{"s":"w","x":1.12,"y":49.5},{"s":"w","x":1.35,"y":53.5},{"s":"w","x":1.63,"y":54.5},{"s":"w","x":2,"y":56},{"s":"w","x":2.43,"y":57},{"s":"w","x":3,"y":58},{"s":"w","x":3.65,"y":59},{"s":"w","x":4.5,"y":60.5},{"s":"w","x":5.6,"y":61.5},{"s":"w","x":6.98,"y":62},{"s":"w","x":8.72,"y":63},
{"s":"z","x":0.25,"y":49},{"s":"z","x":0.3,"y":50},{"s":"z","x":0.37,"y":46},{"s":"z","x":0.45,"y":48},{"s":"z","x":0.55,"y":53},{"s":"z","x":0.67,"y":55.5},{"s":"z","x":0.82,"y":52},{"s":"z","x":0.97,"y":53},{"s":"z","x":1.12,"y":56},{"s":"z","x":1.35,"y":59},{"s":"z","x":1.63,"y":61},{"s":"z","x":2,"y":62},{"s":"z","x":2.43,"y":63},{"s":"z","x":3,"y":63.5},{"s":"z","x":3.65,"y":64},{"s":"z","x":4.5,"y":64.5},{"s":"z","x":5.6,"y":65},{"s":"z","x":6.98,"y":65.5},{"s":"z","x":8.72,"y":66}],
"pd":[{"s":"n","x":0.35,"y":35},{"s":"n","x":0.4,"y":36},{"s":"n","x":0.45,"y":38},{"s":"n","x":0.5,"y":39},{"s":"n","x":0.6,"y":42},{"s":"n","x":0.7,"y":41},{"s":"n","x":0.75,"y":44},{"s":"n","x":0.88,"y":44},{"s":"n","x":1.05,"y":45},{"s":"n","x":1.22,"y":46},{"s":"n","x":1.45,"y":48},{"s":"n","x":1.7,"y":49.5},{"s":"n","x":2.07,"y":50},{"s":"n","x":2.45,"y":51},{"s":"n","x":2.92,"y":52},{"s":"n","x":3.52,"y":53},{"s":"n","x":4.25,"y":54},{"s":"n","x":5.13,"y":55.5},{"s":"n","x":6.35,"y":56.5},{"s":"n","x":7.75,"y":58},{"s":"n","x":9.5,"y":59.5},
{"s":"w","x":0.35,"y":38},{"s":"w","x":0.4,"y":40},{"s":"w","x":0.45,"y":41},{"s":"w","x":0.5,"y":44},{"s":"w","x":0.6,"y":47},{"s":"w","x":0.7,"y":50},{"s":"w","x":0.75,"y":48},{"s":"w","x":0.88,"y":48},{"s":"w","x":1.05,"y":49},{"s":"w","x":1.22,"y":52},{"s":"w","x":1.45,"y":53.5},{"s":"w","x":1.7,"y":54.5},{"s":"w","x":2.07,"y":55.5},{"s":"w","x":2.45,"y":57},{"s":"w","x":2.92,"y":58},{"s":"w","x":3.52,"y":59.5},{"s":"w","x":4.25,"y":61},{"s":"w","x":5.13,"y":62.5},{"s":"w","x":6.35,"y":64},{"s":"w","x":7.75,"y":65.5},{"s":"w","x":9.5,"y":67},
{"s":"z","x":0.35,"y":43},{"s":"z","x":0.4,"y":45},{"s":"z","x":0.45,"y":47},{"s":"z","x":0.5,"y":48},{"s":"z","x":0.6,"y":53},{"s":"z","x":0.7,"y":54},{"s":"z","x":0.75,"y":55},{"s":"z","x":0.88,"y":53},{"s":"z","x":1.05,"y":54},{"s":"z","x":1.22,"y":59},{"s":"z","x":1.45,"y":60},{"s":"z","x":1.7,"y":61},{"s":"z","x":2.07,"y":63},{"s":"z","x":2.45,"y":64},{"s":"z","x":2.92,"y":65.5},{"s":"z","x":3.52,"y":67},{"s":"z","x":4.25,"y":69},{"s":"z","x":5.13,"y":70.5},{"s":"z","x":6.35,"y":72.5},{"s":"z","x":7.75,"y":74},{"s":"z","x":9.5,"y":76}]
},
"spacing":26,
"hconcat":[
{"spacing":15,"vconcat":[
{"width":284,"height":222,"resolve":{"scale":{"y":"independent"}},"layer":[
{"layer":[
{"data":{"name":"ma"},"mark":{"type":"area","interpolate":"monotone","clip":true,"stroke":"#333","strokeWidth":0.6},"encoding":{"x":{"field":"x","type":"quantitative","title":"Fringes","scale":{"domain":[0,6.2],"nice":false,"zero":false},"axis":{"tickCount":40,"format":"d","labelOverlap":false,"values":[0,1,2,3,4,5,6],"titlePadding":0,"labelPadding":3}},"y":{"field":"l","type":"quantitative","title":"Molar mass (kDa)","scale":{"domain":[10,100],"nice":false,"zero":false},"axis":{"tickCount":40,"format":"d","labelOverlap":false,"values":[10,20,30,40,50,60,70,80,90,100],"titlePadding":4}},"y2":{"field":"h"},"detail":{"field":"b"},"color":{"field":"f","type":"quantitative","legend":null,"scale":{"domain":[0,0.04,0.08,0.125,0.19,0.25,0.32,0.375,0.44,0.5,0.56,0.625,0.69,0.75,0.875,1,1.001,1.1],"range":["#000090","#0000b0","#0030e8","#0060ff","#00a0ff","#00d0ff","#00f0c0","#00f080","#00f040","#10e000","#40e000","#90f000","#e0f000","#ffd000","#ff8000","#ff0000","#909090","#909090"]}},"strokeOpacity":{"field":"c","type":"quantitative","legend":null,"scale":{"domain":[0,1],"range":[0,0.6]}}}},
{"data":{"name":"xa"},"mark":{"type":"rule","color":"#222","clip":false},"encoding":{"x":{"field":"x","type":"quantitative"},"y":{"value":222},"y2":{"value":225}}},
{"data":{"name":"ya"},"mark":{"type":"rule","color":"#222","clip":false},"encoding":{"y":{"field":"y","type":"quantitative"},"x":{"value":0},"x2":{"value":-3}}},
{"data":{"name":"pa"},"mark":{"type":"point","filled":true,"fill":"white","stroke":"#667","strokeWidth":0.5,"opacity":1},"encoding":{"x":{"field":"x","type":"quantitative"},"y":{"field":"y","type":"quantitative"},"size":{"field":"s","type":"ordinal","legend":null,"scale":{"domain":["n","w","z"],"range":[30,34,55]}},"shape":{"field":"s","type":"nominal","legend":null,"scale":{"domain":["n","w","z"],"range":["square","circle","triangle-up"]}}}},
{"data":{"name":"one"},"mark":{"type":"text","fontSize":20,"fontWeight":"bold","color":"white","align":"left","baseline":"middle","text":"(a)"},"encoding":{"x":{"datum":0.07},"y":{"datum":93}}},
{"data":{"name":"one"},"mark":{"type":"point","shape":"square","size":380,"filled":false,"stroke":"white","strokeWidth":2,"opacity":1},"encoding":{"x":{"datum":1.21},"y":{"datum":89.5}}},
{"data":{"name":"one"},"mark":{"type":"point","shape":"circle","size":150,"filled":false,"stroke":"white","strokeWidth":2,"opacity":1},"encoding":{"x":{"datum":1.18},"y":{"datum":78.9}}},
{"data":{"name":"one"},"mark":{"type":"point","shape":"triangle-up","size":220,"filled":false,"stroke":"white","strokeWidth":2,"opacity":1},"encoding":{"x":{"datum":1.21},"y":{"datum":68.1}}},
{"data":{"name":"one"},"mark":{"type":"text","fontSize":21,"color":"white","align":"left","baseline":"middle","text":"n-average"},"encoding":{"x":{"datum":1.67},"y":{"datum":89.5}}},
{"data":{"name":"one"},"mark":{"type":"text","fontSize":21,"color":"white","align":"left","baseline":"middle","text":"w-average"},"encoding":{"x":{"datum":1.64},"y":{"datum":79}}},
{"data":{"name":"one"},"mark":{"type":"text","fontSize":21,"color":"white","align":"left","baseline":"middle","text":"z-average"},"encoding":{"x":{"datum":1.67},"y":{"datum":68}}}
]},
{"layer":[
{"data":{"name":"bar"},"mark":{"type":"rect","clip":false},"encoding":{"x":{"datum":6.265,"type":"quantitative"},"x2":{"datum":6.396},"y":{"field":"lo","type":"quantitative","title":null,"scale":{"domain":[-0.0187,1.0187],"nice":false,"zero":false,"clamp":true},"axis":{"labelOverlap":false,"orient":"right","offset":9,"domain":false,"tickSize":3,"labelPadding":5,"values":[0,0.106,0.234,0.361,0.489,0.617,0.745,0.872,1],"labelExpr":"['0.09','0.53','1.06','1.59','2.12','2.65','3.18','3.71','4.24'][round(datum.index*8)]"}},"y2":{"field":"hi"},"color":{"field":"f","type":"quantitative","legend":null}}},
{"data":{"name":"one"},"mark":{"type":"text","fontSize":13,"color":"#111","align":"center","baseline":"middle","clip":false,"text":"g(M)"},"encoding":{"x":{"value":289},"y":{"value":-11}}}
]}
]},
{"width":284.5,"height":224,"resolve":{"scale":{"y":"independent"}},"layer":[
{"layer":[
{"data":{"name":"mc"},"mark":{"type":"area","interpolate":"monotone","clip":true,"stroke":"#333","strokeWidth":0.6},"encoding":{"x":{"field":"x","type":"quantitative","title":"Fringes","scale":{"domain":[0,9],"nice":false,"zero":false},"axis":{"tickCount":40,"format":"d","labelOverlap":false,"values":[0,1,2,3,4,5,6,7,8,9],"titlePadding":2,"labelPadding":3}},"y":{"field":"l","type":"quantitative","title":"Molar mass (kDa)","scale":{"domain":[20,200],"nice":false,"zero":false},"axis":{"tickCount":40,"format":"d","labelOverlap":false,"values":[20,40,60,80,100,120,140,160,180,200],"titlePadding":8}},"y2":{"field":"h"},"detail":{"field":"b"},"color":{"field":"f","type":"quantitative","legend":null},"strokeOpacity":{"field":"c","type":"quantitative","legend":null,"scale":{"domain":[0,1],"range":[0,0.6]}}}},
{"data":{"name":"xc"},"mark":{"type":"rule","color":"#222","clip":false},"encoding":{"x":{"field":"x","type":"quantitative"},"y":{"value":224},"y2":{"value":227}}},
{"data":{"name":"yy"},"mark":{"type":"rule","color":"#222","clip":false},"encoding":{"y":{"field":"y","type":"quantitative"},"x":{"value":0},"x2":{"value":-3}}},
{"data":{"name":"pc"},"mark":{"type":"point","filled":true,"fill":"white","stroke":"#667","strokeWidth":0.5,"opacity":1},"encoding":{"x":{"field":"x","type":"quantitative"},"y":{"field":"y","type":"quantitative"},"size":{"field":"s","type":"ordinal","legend":null},"shape":{"field":"s","type":"nominal","legend":null}}},
{"data":{"name":"one"},"mark":{"type":"text","fontSize":21,"fontWeight":"bold","color":"white","align":"left","baseline":"middle","text":"(c)"},"encoding":{"x":{"datum":0.13},"y":{"datum":185}}}
]},
{"layer":[
{"data":{"name":"bar"},"mark":{"type":"rect","clip":false},"encoding":{"x":{"datum":9.063,"type":"quantitative"},"x2":{"datum":9.27},"y":{"field":"lo","type":"quantitative","title":null,"scale":{"domain":[0,1.022],"nice":false,"zero":false,"clamp":true},"axis":{"labelOverlap":false,"orient":"right","offset":9,"domain":false,"tickSize":3,"labelPadding":5,"values":[0.125,0.25,0.375,0.5,0.625,0.75,0.875,1],"labelExpr":"['0.59','1.18','1.78','2.37','2.96','3.56','4.15','4.74'][round(datum.index*7)]"}},"y2":{"field":"hi"},"color":{"field":"f","type":"quantitative","legend":null}}},
{"data":{"name":"one"},"mark":{"type":"text","fontSize":13,"color":"#111","align":"center","baseline":"middle","clip":false,"text":"g(M)"},"encoding":{"x":{"value":289},"y":{"value":-10}}}
]}
]}
]},
{"spacing":13.2,"vconcat":[
{"width":283.5,"height":222,"resolve":{"scale":{"y":"independent"}},"layer":[
{"layer":[
{"data":{"name":"mb"},"mark":{"type":"area","interpolate":"monotone","clip":true,"stroke":"#333","strokeWidth":0.6},"encoding":{"x":{"field":"x","type":"quantitative","title":"Fringes","scale":{"domain":[0,3.8],"nice":false,"zero":false},"axis":{"tickCount":40,"labelOverlap":false,"values":[0,0.5,1,1.5,2,2.5,3,3.5],"format":".1f","titlePadding":3,"labelPadding":4}},"y":{"field":"l","type":"quantitative","title":"Molar mass (kDa)","scale":{"domain":[20,200],"nice":false,"zero":false},"axis":{"tickCount":40,"format":"d","labelOverlap":false,"values":[20,40,60,80,100,120,140,160,180,200],"titlePadding":5}},"y2":{"field":"h"},"detail":{"field":"b"},"color":{"field":"f","type":"quantitative","legend":null},"strokeOpacity":{"field":"c","type":"quantitative","legend":null,"scale":{"domain":[0,1],"range":[0,0.6]}}}},
{"data":{"name":"xb"},"mark":{"type":"rule","color":"#222","clip":false},"encoding":{"x":{"field":"x","type":"quantitative"},"y":{"value":222},"y2":{"value":225}}},
{"data":{"name":"yy"},"mark":{"type":"rule","color":"#222","clip":false},"encoding":{"y":{"field":"y","type":"quantitative"},"x":{"value":0},"x2":{"value":-3}}},
{"data":{"name":"pb"},"mark":{"type":"point","filled":true,"fill":"white","stroke":"#667","strokeWidth":0.5,"opacity":1},"encoding":{"x":{"field":"x","type":"quantitative"},"y":{"field":"y","type":"quantitative"},"size":{"field":"s","type":"ordinal","legend":null},"shape":{"field":"s","type":"nominal","legend":null}}},
{"data":{"name":"one"},"mark":{"type":"text","fontSize":21,"fontWeight":"bold","color":"white","align":"left","baseline":"middle","text":"(b)"},"encoding":{"x":{"datum":0.06},"y":{"datum":188}}}
]},
{"layer":[
{"data":{"name":"bar"},"mark":{"type":"rect","clip":false},"encoding":{"x":{"datum":3.834,"type":"quantitative"},"x2":{"datum":3.914},"y":{"field":"lo","type":"quantitative","title":null,"scale":{"domain":[0,1.0215],"nice":false,"zero":false,"clamp":true},"axis":{"labelOverlap":false,"orient":"right","offset":8.5,"domain":false,"tickSize":3,"labelPadding":4,"values":[0.125,0.25,0.375,0.5,0.625,0.75,0.875,1],"labelExpr":"['0.27','0.53','0.80','1.07','1.33','1.60','1.86','2.13'][round(datum.index*7)]"}},"y2":{"field":"hi"},"color":{"field":"f","type":"quantitative","legend":null}}},
{"data":{"name":"one"},"mark":{"type":"text","fontSize":13,"color":"#111","align":"center","baseline":"middle","clip":false,"text":"g(M)"},"encoding":{"x":{"value":289},"y":{"value":-10}}}
]}
]},
{"width":281.5,"height":221.5,"resolve":{"scale":{"y":"independent"}},"layer":[
{"layer":[
{"data":{"name":"md"},"mark":{"type":"area","interpolate":"monotone","clip":true,"stroke":"#333","strokeWidth":0.6},"encoding":{"x":{"field":"x","type":"quantitative","title":"Fringes","scale":{"domain":[0,10],"nice":false,"zero":false},"axis":{"tickCount":40,"format":"d","labelOverlap":false,"values":[0,2,4,6,8,10],"titlePadding":4.5,"labelPadding":3}},"y":{"field":"l","type":"quantitative","title":"Molar mass (kDa)","scale":{"domain":[20,200],"nice":false,"zero":false},"axis":{"tickCount":40,"format":"d","labelOverlap":false,"values":[20,40,60,80,100,120,140,160,180,200],"titlePadding":5}},"y2":{"field":"h"},"detail":{"field":"b"},"color":{"field":"f","type":"quantitative","legend":null},"strokeOpacity":{"field":"c","type":"quantitative","legend":null,"scale":{"domain":[0,1],"range":[0,0.6]}}}},
{"data":{"name":"xd"},"mark":{"type":"rule","color":"#222","clip":false},"encoding":{"x":{"field":"x","type":"quantitative"},"y":{"value":221.5},"y2":{"value":224.5}}},
{"data":{"name":"yy"},"mark":{"type":"rule","color":"#222","clip":false},"encoding":{"y":{"field":"y","type":"quantitative"},"x":{"value":0},"x2":{"value":-3}}},
{"data":{"name":"pd"},"mark":{"type":"point","filled":true,"fill":"white","stroke":"#667","strokeWidth":0.5,"opacity":1},"encoding":{"x":{"field":"x","type":"quantitative"},"y":{"field":"y","type":"quantitative"},"size":{"field":"s","type":"ordinal","legend":null},"shape":{"field":"s","type":"nominal","legend":null}}},
{"data":{"name":"one"},"mark":{"type":"text","fontSize":21,"fontWeight":"bold","color":"white","align":"left","baseline":"middle","text":"(d)"},"encoding":{"x":{"datum":0.095},"y":{"datum":186}}}
]},
{"layer":[
{"data":{"name":"bar"},"mark":{"type":"rect","clip":false},"encoding":{"x":{"datum":10.053,"type":"quantitative"},"x2":{"datum":10.3},"y":{"field":"lo","type":"quantitative","title":null,"scale":{"domain":[0,1.024],"nice":false,"zero":false,"clamp":true},"axis":{"labelOverlap":false,"orient":"right","offset":8.5,"domain":false,"tickSize":3,"labelPadding":4,"values":[0.125,0.25,0.375,0.5,0.625,0.75,0.875,1],"labelExpr":"['0.30','0.60','0.90','1.20','1.50','1.80','2.10','2.40'][round(datum.index*7)]"}},"y2":{"field":"hi"},"color":{"field":"f","type":"quantitative","legend":null}}},
{"data":{"name":"one"},"mark":{"type":"text","fontSize":13,"color":"#111","align":"center","baseline":"middle","clip":false,"text":"g(M)"},"encoding":{"x":{"value":287},"y":{"value":-11}}}
]}
]}
]}
]}
